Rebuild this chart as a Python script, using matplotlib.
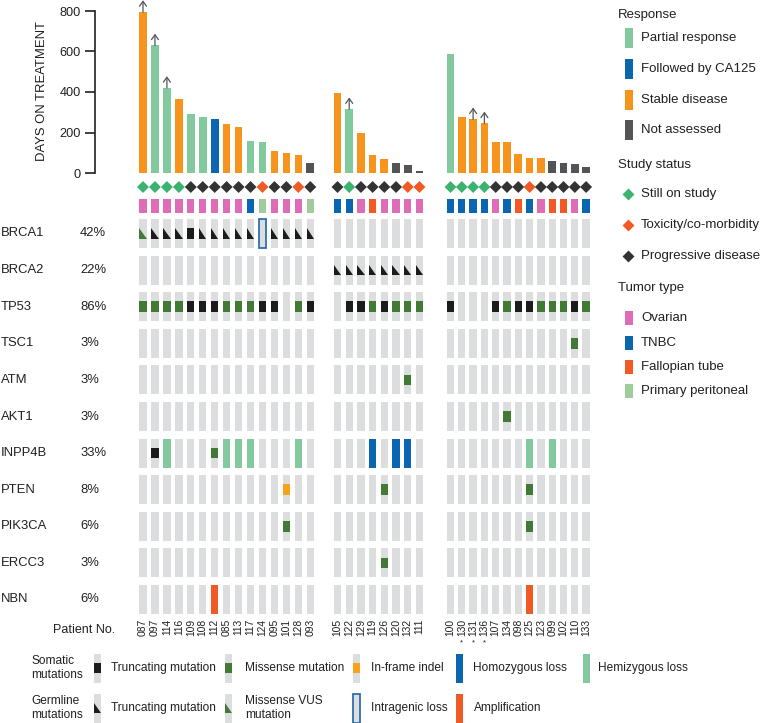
import numpy as np
import matplotlib
matplotlib.use('Agg')
import matplotlib.pyplot as plt
from matplotlib.patches import Rectangle, Polygon
from matplotlib import transforms

plt.rcParams['font.family'] = ['Liberation Sans', 'DejaVu Sans']
TXT = '#231f20'

# ---------------- data ----------------
patients_g1 = ['087', '097', '114', '116', '109', '108', '112', '085', '113', '117', '124', '095', '101', '128', '093']
patients_g2 = ['105', '122', '129', '119', '126', '120', '132', '111']
patients_g3 = ['100', '130', '131', '136', '107', '134', '098', '125', '123', '099', '102', '110', '133']

days_g1 = [795, 630, 420, 365, 290, 277, 265, 240, 227, 157, 152, 108, 97, 90, 48]
days_g2 = [393, 315, 199, 90, 71, 48, 38, 12]
days_g3 = [586, 278, 265, 245, 153, 153, 94, 74, 74, 58, 51, 44, 31]

response_g1 = ['SD', 'PR', 'PR', 'SD', 'PR', 'PR', 'CA', 'SD', 'SD', 'PR', 'PR', 'SD', 'SD', 'SD', 'NA']
response_g2 = ['SD', 'PR', 'SD', 'SD', 'SD', 'NA', 'NA', 'NA']
response_g3 = ['PR', 'SD', 'SD', 'SD', 'SD', 'SD', 'SD', 'SD', 'SD', 'NA', 'NA', 'NA', 'NA']

status_g1 = ['S', 'S', 'S', 'S', 'P', 'P', 'P', 'P', 'P', 'P', 'T', 'P', 'P', 'T', 'P']
status_g2 = ['P', 'S', 'P', 'P', 'P', 'P', 'T', 'T']
status_g3 = ['S', 'S', 'S', 'S', 'P', 'P', 'P', 'T', 'P', 'P', 'P', 'P', 'P']

tumor_g1 = ['OV'] * 9 + ['TNBC', 'PP', 'OV', 'OV', 'OV', 'PP']
tumor_g2 = ['TNBC', 'TNBC', 'OV', 'FT', 'OV', 'OV', 'OV', 'OV']
tumor_g3 = ['TNBC', 'TNBC', 'TNBC', 'TNBC', 'OV', 'TNBC', 'FT', 'TNBC', 'OV', 'FT', 'FT', 'OV', 'TNBC']

ongoing = ['087', '097', '114', '122', '131', '136']
asterisk = ['130', '131', '136']

genes = ['BRCA1', 'BRCA2', 'TP53', 'TSC1', 'ATM', 'AKT1', 'INPP4B', 'PTEN', 'PIK3CA', 'ERCC3', 'NBN']
gene_pct = ['42%', '22%', '86%', '3%', '3%', '3%', '33%', '8%', '6%', '3%', '6%']

somatic_trunc = {
    'BRCA1': ['109'],
    'TP53': ['109', '108', '112', '124', '095', '093', '122', '129', '126', '100', '107', '098', '125', '110'],
    'INPP4B': ['097'],
}
somatic_missense = {
    'TP53': ['087', '097', '114', '116', '085', '113', '117', '128', '119', '120', '132', '111',
             '134', '123', '099', '102', '133'],
    'TSC1': ['110'], 'ATM': ['132'], 'AKT1': ['134'], 'INPP4B': ['112'],
    'PTEN': ['126', '125'], 'PIK3CA': ['101', '125'], 'ERCC3': ['126'],
}
inframe_indel = {'PTEN': ['101']}
homozygous_loss = {'INPP4B': ['119', '120', '132']}
hemizygous_loss = {'INPP4B': ['114', '085', '113', '117', '128', '125', '099']}
amplification = {'NBN': ['112', '125']}
germline_trunc = {
    'BRCA1': ['097', '114', '116', '108', '112', '085', '113', '117', '095', '101', '128', '093'],
    'BRCA2': patients_g2,
}
germline_vus = {'BRCA1': ['087']}
intragenic_loss = {'BRCA1': ['124']}

# ---------------- styles ----------------
resp_col = {'PR': '#82c99d', 'CA': '#0a66b0', 'SD': '#f7941d', 'NA': '#545456'}
stat_col = {'S': '#3bb36f', 'T': '#f15a24', 'P': '#333333'}
tum_col = {'OV': '#de6cb7', 'TNBC': '#0a66b0', 'FT': '#f15a24', 'PP': '#a0cc9b'}
GRAY = '#dcdddf'
C_TRUNC = '#1c1c1c'
C_MISS = '#427a35'
C_INDEL = '#f7a21b'
C_HOMO = '#0a66b0'
C_HEMI = '#82c99d'
C_AMP = '#f15a24'

W, H = 760, 723
fig = plt.figure(figsize=(W / 100, H / 100), dpi=100)
X0, X1 = 95, 600

group_pat = [patients_g1, patients_g2, patients_g3]
group_days = [days_g1, days_g2, days_g3]
group_resp = [response_g1, response_g2, response_g3]
group_stat = [status_g1, status_g2, status_g3]
group_tum = [tumor_g1, tumor_g2, tumor_g3]
group_start = [143.0, 337.5, 450.5]
group_step = [11.95, 11.71, 11.3]

xs, pats, dys, resp, stat, tum = [], [], [], [], [], []
for g in range(3):
    for i, p in enumerate(group_pat[g]):
        xs.append(group_start[g] + i * group_step[g])
        pats.append(p)
        dys.append(group_days[g][i])
        resp.append(group_resp[g][i])
        stat.append(group_stat[g][i])
        tum.append(group_tum[g][i])
xpos = dict(zip(pats, xs))

# ---------------- bar chart ----------------
base_px, scale = 173.0, 0.2025
ax_bar = fig.add_axes([X0 / W, 1 - base_px / H, (X1 - X0) / W, base_px / H])
ax_bar.set_xlim(X0, X1)
ax_bar.set_ylim(0, base_px / scale)
ax_bar.bar(xs, dys, width=7.7, color=[resp_col[r] for r in resp], linewidth=0)
for s in ['top', 'right', 'bottom']:
    ax_bar.spines[s].set_visible(False)
ax_bar.spines['left'].set_bounds(0, 800)
ax_bar.spines['left'].set_linewidth(1.2)
ax_bar.spines['left'].set_color(TXT)
ax_bar.set_yticks([0, 200, 400, 600, 800])
ax_bar.tick_params(axis='y', length=7, width=1.2, labelsize=9.2, pad=3, colors=TXT)
ax_bar.set_xticks([])
ax_bar.patch.set_alpha(0)
for p in ongoing:
    d = dys[pats.index(p)]
    ax_bar.annotate('', xy=(xpos[p], d + 58), xytext=(xpos[p], d),
                    arrowprops=dict(arrowstyle='->,head_length=0.35,head_width=0.25',
                                    color='#555555', lw=0.9, shrinkA=0, shrinkB=0),
                    annotation_clip=False)
fig.text(42 / W, 1 - 91 / H, 'DAYS ON TREATMENT', rotation=90, ha='center', va='center',
         fontsize=9.4, color=TXT)

# ---------------- grid ----------------
ROW0, PITCH = 233.5, 36.6
def k_of(px):
    return (px - ROW0) / PITCH

ax_g = fig.add_axes([X0 / W, 1 - 650 / H, (X1 - X0) / W, (650 - 176) / H])
ax_g.set_xlim(X0, X1)
ax_g.set_ylim(k_of(650), k_of(176))
ax_g.axis('off')

CW, CH = 7.3, 0.79
MH = 0.29
k_diam, k_tum = k_of(187), k_of(206)

ax_g.scatter(xs, [k_diam] * len(xs), marker='D', s=37, c=[stat_col[s] for s in stat], linewidths=0)
for x, t in zip(xs, tum):
    ax_g.add_patch(Rectangle((x - CW / 2, k_tum - 0.195), CW, 0.39, fc=tum_col[t], lw=0))

def cell(x, k):
    ax_g.add_patch(Rectangle((x - CW / 2, k - CH / 2), CW, CH, fc=GRAY, lw=0))

def full(x, k, c):
    ax_g.add_patch(Rectangle((x - CW / 2, k - CH / 2), CW, CH, fc=c, lw=0))

def mark(x, k, c):
    ax_g.add_patch(Rectangle((x - CW / 2, k - MH / 2), CW, MH, fc=c, lw=0))

def tri(x, k, c):
    ax_g.add_patch(Polygon([(x - CW / 2, k - MH / 2), (x - CW / 2, k + MH / 2), (x + CW / 2, k + MH / 2)],
                           closed=True, fc=c, lw=0))

for k, gname in enumerate(genes):
    for p, x in zip(pats, xs):
        if p in intragenic_loss.get(gname, []):
            ax_g.add_patch(Rectangle((x - CW / 2, k - CH / 2), CW, CH, fc=GRAY, ec='#2f6fad', lw=1.3))
            continue
        cell(x, k)
        if p in homozygous_loss.get(gname, []):
            full(x, k, C_HOMO)
        if p in hemizygous_loss.get(gname, []):
            full(x, k, C_HEMI)
        if p in amplification.get(gname, []):
            full(x, k, C_AMP)
        if p in somatic_trunc.get(gname, []):
            mark(x, k, C_TRUNC)
        if p in somatic_missense.get(gname, []):
            mark(x, k, C_MISS)
        if p in inframe_indel.get(gname, []):
            mark(x, k, C_INDEL)
        if p in germline_trunc.get(gname, []):
            tri(x, k, C_TRUNC)
        if p in germline_vus.get(gname, []):
            tri(x, k, C_MISS)

trans = transforms.blended_transform_factory(fig.transFigure, ax_g.transData)
for k, (gname, pct) in enumerate(zip(genes, gene_pct)):
    ax_g.text(1 / W, k, gname, transform=trans, ha='left', va='center', fontsize=9.4, color=TXT)
    ax_g.text(80 / W, k, pct, transform=trans, ha='left', va='center', fontsize=9.4, color=TXT)

for p, x in zip(pats, xs):
    ax_g.text(x, k_of(619), p, rotation=90, ha='center', va='top', fontsize=7.4, color=TXT)
    if p in asterisk:
        ax_g.text(x, k_of(639), '*', ha='center', va='top', fontsize=5.5, color=TXT)
fig.text(53 / W, 1 - 630 / H, 'Patient No.', ha='left', va='center', fontsize=9, color=TXT)

# ---------------- legends ----------------
ax_o = fig.add_axes([0, 0, 1, 1], zorder=-1)
ax_o.set_xlim(0, W)
ax_o.set_ylim(H, 0)
ax_o.axis('off')
ax_o.patch.set_alpha(0)

# right legend
def ltxt(x, y, s, fs=9.5):
    ax_o.text(x, y, s, ha='left', va='center', fontsize=fs, color=TXT)

LX = 629
ltxt(618, 15, 'Response')
for y, lab, key in [(38, 'Partial response', 'PR'), (69, 'Followed by CA125', 'CA'),
                    (100, 'Stable disease', 'SD'), (130, 'Not assessed', 'NA')]:
    ax_o.add_patch(Rectangle((LX - 3.75, y - 10), 7.5, 20, fc=resp_col[key], lw=0))
    ltxt(641, y, lab)
ltxt(618, 165, 'Study status')
for y, lab, key in [(194, 'Still on study', 'S'), (225, 'Toxicity/co-morbidity', 'T'),
                    (256, 'Progressive disease', 'P')]:
    ax_o.scatter([LX - 1], [y], marker='D', s=37, c=stat_col[key], linewidths=0)
    ltxt(641, y, lab)
ltxt(618, 288, 'Tumor type')
for y, lab, key in [(318, 'Ovarian', 'OV'), (343, 'TNBC', 'TNBC'), (367, 'Fallopian tube', 'FT'),
                    (391, 'Primary peritoneal', 'PP')]:
    ax_o.add_patch(Rectangle((LX - 3.75, y - 7), 7.5, 14, fc=tum_col[key], lw=0))
    ltxt(641, y, lab)

# bottom legend
R1, R2 = 668, 708
LW_, LH = 7, 29
def icon_cell(cx, cy):
    ax_o.add_patch(Rectangle((cx - LW_ / 2, cy - LH / 2), LW_, LH, fc=GRAY, lw=0))

def icon_mark(cx, cy, c):
    icon_cell(cx, cy)
    ax_o.add_patch(Rectangle((cx - LW_ / 2, cy - 5), LW_, 10, fc=c, lw=0))

def icon_full(cx, cy, c):
    ax_o.add_patch(Rectangle((cx - LW_ / 2, cy - LH / 2), LW_, LH, fc=c, lw=0))

def icon_tri(cx, cy, c):
    icon_cell(cx, cy)
    ax_o.add_patch(Polygon([(cx - LW_ / 2, cy - 5), (cx - LW_ / 2, cy + 5), (cx + LW_ / 2, cy + 5)],
                           closed=True, fc=c, lw=0))

fsb = 8.6
ax_o.text(31, R1, 'Somatic\nmutations', ha='left', va='center', fontsize=fsb, color=TXT, linespacing=1.25)
ax_o.text(31, R2, 'Germline\nmutations', ha='left', va='center', fontsize=fsb, color=TXT, linespacing=1.25)

icon_mark(97, R1, C_TRUNC); ax_o.text(111, R1, 'Truncating mutation', va='center', fontsize=fsb, color=TXT)
icon_mark(228.5, R1, C_MISS); ax_o.text(245, R1, 'Missense mutation', va='center', fontsize=fsb, color=TXT)
icon_mark(356, R1, C_INDEL); ax_o.text(371, R1, 'In-frame indel', va='center', fontsize=fsb, color=TXT)
icon_full(459, R1, C_HOMO); ax_o.text(473, R1, 'Homozygous loss', va='center', fontsize=fsb, color=TXT)
icon_full(586, R1, C_HEMI); ax_o.text(598, R1, 'Hemizygous loss', va='center', fontsize=fsb, color=TXT)

icon_tri(97, R2, C_TRUNC); ax_o.text(111, R2, 'Truncating mutation', va='center', fontsize=fsb, color=TXT)
icon_tri(228.5, R2, C_MISS); ax_o.text(245, R2, 'Missense VUS\nmutation', va='center', fontsize=fsb, color=TXT, linespacing=1.25)
ax_o.add_patch(Rectangle((356 - LW_ / 2, R2 - LH / 2), LW_, LH, fc=GRAY, ec='#2f6fad', lw=1.3))
ax_o.text(371, R2, 'Intragenic loss', va='center', fontsize=fsb, color=TXT)
icon_full(459, R2, C_AMP); ax_o.text(474, R2, 'Amplification', va='center', fontsize=fsb, color=TXT)

fig.savefig('out.png', dpi=100)
